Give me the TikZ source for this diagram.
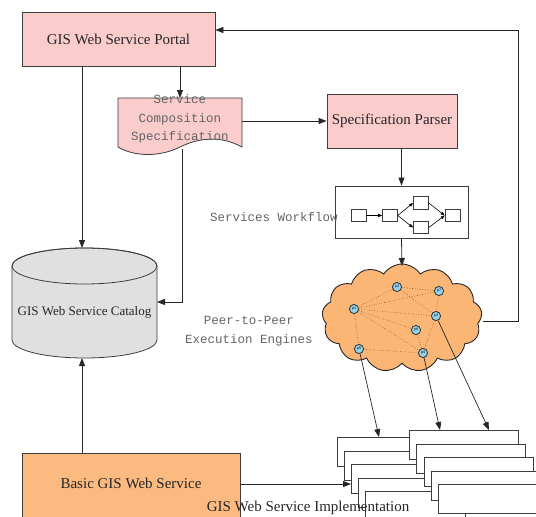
\documentclass[tikz,border=0pt]{standalone}
\usepackage{fontspec}
\setmainfont{Liberation Serif}
\setmonofont{Liberation Mono}
\usetikzlibrary{arrows.meta,shapes.symbols}
\definecolor{pinkbox}{RGB}{250,204,204}
\definecolor{orangebox}{RGB}{250,186,128}
\definecolor{cloudfill}{RGB}{251,182,117}
\definecolor{catfill}{RGB}{224,224,224}
\definecolor{edge}{RGB}{60,60,60}
\definecolor{peerfill}{RGB}{150,210,235}
\definecolor{dotc}{RGB}{140,80,30}
\definecolor{monogray}{RGB}{100,100,100}
\tikzset{
  box/.style={draw=edge, line width=0.8pt, minimum width=#1, inner sep=0pt},
  serifTxt/.style={font=\fontsize{15}{17}\selectfont, text=black!85},
  monoTxt/.style={font=\ttfamily\fontsize{12.5}{18.5}\selectfont, text=monogray, align=center},
  conn/.style={draw=black!85, line width=0.8pt},
  arr/.style={conn, -{Triangle[length=8pt,width=6pt]}},
  smallarr/.style={draw=black, line width=0.6pt, -{Triangle[length=4pt,width=3pt]}},
  wfbox/.style={draw=edge, line width=0.6pt, fill=white, minimum width=15pt, minimum height=12.5pt, inner sep=0pt},
  peer/.style={circle, draw=black!80, line width=0.7pt, fill=peerfill, minimum size=9pt, inner sep=0pt, font=\sffamily\fontsize{4}{4}\selectfont},
  peerlink/.style={draw=dotc, dotted, line width=0.6pt},
  implbox/.style={draw=edge, line width=0.8pt, fill=white, minimum height=29pt, inner sep=0pt, anchor=north west},
}
\begin{document}
\begin{tikzpicture}[x=1pt,y=-1pt]
\useasboundingbox (0,0) rectangle (536,517);

% Portal
\node[box=193pt, minimum height=54pt, fill=pinkbox, serifTxt] (portal) at (118.5,39) {GIS Web Service Portal};

% Document shape
\path[draw=edge, line width=0.8pt, fill=pinkbox]
  (118,98) -- (242,98) -- (242,147)
  .. controls (222,136) and (200,137) .. (180,147)
  .. controls (160,157) and (135,157) .. (118,147) -- cycle;
\coordinate (doctop) at (180,98);
\coordinate (docright) at (242,121);
\coordinate (docbot) at (182,149);
\node[monoTxt] (doctext) at (180,119) {Service\\Composition\\Specification};

% Specification parser
\node[box=130pt, minimum height=54pt, fill=pinkbox, serifTxt] (parser) at (392,121) {Specification Parser};

% Workflow box
\node[box=133pt, minimum height=52pt, fill=white] (wf) at (401.5,212) {};
\node[wfbox] (w1) at (358.5,215.5) {};
\node[wfbox] (w2) at (390,215.5) {};
\node[wfbox] (w3) at (421,203) {};
\node[wfbox] (w4) at (421,227.5) {};
\node[wfbox] (w5) at (452.5,215.5) {};
\draw[smallarr] (w1) -- (w2);
\draw[smallarr] (w2.east) .. controls (404,210) .. (w3.west);
\draw[smallarr] (w2.east) .. controls (404,221) .. (w4.west);
\draw[smallarr] (w3.east) -- (w5.west);
\draw[smallarr] (w4.east) -- (w5.west);
\node[monoTxt, font=\ttfamily\fontsize{12.5}{14}\selectfont] (wflabel) at (274,217) {Services Workflow};

% Catalog cylinder
\path[fill=catfill, draw=edge, line width=0.8pt]
  (12,266) -- (12,340) arc[start angle=180, end angle=360, x radius=72.5pt, y radius=18pt]
  -- (157,266) arc[start angle=0, end angle=180, x radius=72.5pt, y radius=18pt] -- cycle;
\draw[edge, line width=0.8pt] (84.5,266) ellipse[x radius=72.5pt, y radius=18pt];
\coordinate (cattop) at (82,248);
\coordinate (catbot) at (82,358);
\coordinate (catright) at (157,302);
\node[font=\fontsize{13}{15}\selectfont, text=black!85] (cattext) at (84.5,312) {GIS Web Service Catalog};

% Cloud
\node[cloud, cloud puffs=13, cloud puff arc=115, aspect=1.6, draw=black!85, line width=0.9pt, fill=cloudfill, minimum width=160pt, minimum height=108pt, inner sep=0pt] (cloud) at (402,318) {};
\coordinate (cloudtop) at (402,266);
\coordinate (cloudright) at (483,321);

% Peers
\node[peer] (p2) at (397,287) {p2};
\node[peer] (p7) at (439,291) {p7};
\node[peer] (p1) at (354,309) {p1};
\node[peer] (p3) at (436,316) {p3};
\node[peer] (p6) at (416,330) {p6};
\node[peer] (p5) at (359,349) {p5};
\node[peer] (p4) at (423,353) {p4};
\path[peerlink] (p2) -- (p7) (p2) -- (p1) (p1) -- (p7) (p1) -- (p3) (p2) -- (p3)
  (p1) -- (p6) (p1) -- (p4) (p1) -- (p5) (p5) -- (p4) (p6) -- (p4) (p3) -- (p4) (p7) -- (p3);
\foreach \n/\l in {p1/p1,p2/p2,p3/p3,p4/p4,p5/p5,p6/p6,p7/p7}{
  \node[peer] at (\n) {\l};
}
\node[monoTxt, font=\ttfamily\fontsize{12.5}{19}\selectfont] (peerlabel) at (249,331) {Peer-to-Peer\\Execution Engines};

% Implementation stacks
\foreach \i in {0,...,4}{
  \node[implbox, minimum width=100pt] (L\i) at ({337+7*\i},{437+13.5*\i}) {};
}
\foreach \i in {0,...,4}{
  \node[implbox, minimum width=109pt] (R\i) at ({409+7.3*\i},{430+13.5*\i}) {};
}

% Basic GIS Web Service
\node[box=218pt, minimum height=70pt, fill=orangebox, anchor=north west] (basic) at (22,453) {};
\node[serifTxt] (basictext) at (131,483) {Basic GIS Web Service};

\node[serifTxt] (impltext) at (308,508) {GIS Web Service Implementation};

% Connectors
\draw[arr] (portal.south -| doctop) -- (doctop);
\draw[arr] (docright) -- (parser.west |- docright);
\draw[arr] (parser.south -| wf.north) -- (wf.north);
\draw[arr] (wf.south) -- (cloudtop);
\draw[arr] (portal.south -| cattop) -- (cattop);
\draw[arr] (docbot) -- (docbot |- catright) -- (catright);
\draw[arr] (basic.north -| catbot) -- (catbot);
\draw[arr] (cloudright) -- (518,321) -- (518,30) -- (portal.east |- 518,30);
\draw[arr] (basic.east |- 0,484) -- (L2.west |- 0,484);
\draw[conn, -{Triangle[length=8pt,width=6pt]}, line width=0.7pt] (p5) -- (L0.north -| 379,0);
\draw[conn, -{Triangle[length=8pt,width=6pt]}, line width=0.7pt] (p4) -- (R0.north -| 440,0);
\draw[conn, -{Triangle[length=8pt,width=6pt]}, line width=0.7pt] (p3) -- (R0.north -| 489,0);
\end{tikzpicture}
\end{document}
